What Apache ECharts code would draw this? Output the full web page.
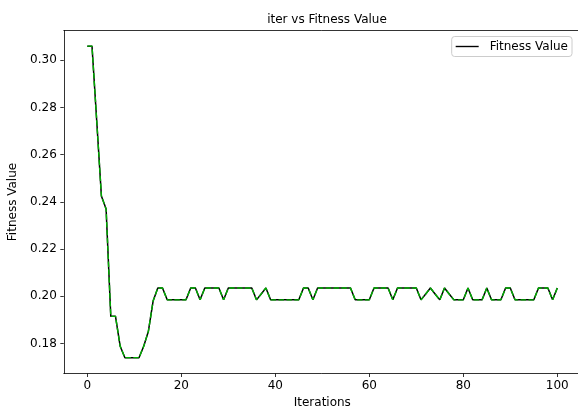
<!DOCTYPE html>
<html>
<head>
<meta charset="utf-8">
<script src="https://cdn.jsdelivr.net/npm/echarts@6/dist/echarts.min.js"></script>
<style>
html,body{margin:0;padding:0;background:#fff;}
#chart{width:578px;height:412px;}
</style>
</head>
<body>
<div id="chart"></div>
<script>
// Fitness value per iteration (index = iteration 0..100)
const fitness = [
  0.306, 0.306, 0.2745, 0.2425, 0.237, 0.1915, 0.1915, 0.1788, 0.174, 0.174,
  0.174, 0.174, 0.1788, 0.1852, 0.1980, 0.2035, 0.2035, 0.1985, 0.1985, 0.1985,
  0.1985, 0.1985, 0.2035, 0.2035, 0.1985, 0.2035, 0.2035, 0.2035, 0.2035, 0.1985,
  0.2035, 0.2035, 0.2035, 0.2035, 0.2035, 0.2035, 0.1985, 0.2010, 0.2035, 0.1985,
  0.1985, 0.1985, 0.1985, 0.1985, 0.1985, 0.1985, 0.2035, 0.2035, 0.1985, 0.2035,
  0.2035, 0.2035, 0.2035, 0.2035, 0.2035, 0.2035, 0.2035, 0.1985, 0.1985, 0.1985,
  0.1985, 0.2035, 0.2035, 0.2035, 0.2035, 0.1985, 0.2035, 0.2035, 0.2035, 0.2035,
  0.2035, 0.1985, 0.2010, 0.2035, 0.2010, 0.1985, 0.2035, 0.2010, 0.1985, 0.1985,
  0.1985, 0.2035, 0.1985, 0.1985, 0.1985, 0.2035, 0.1985, 0.1985, 0.1985, 0.2035,
  0.2035, 0.1985, 0.1985, 0.1985, 0.1985, 0.1985, 0.2035, 0.2035, 0.2035, 0.1985,
  0.2035
];
const xTicks = [0, 20, 40, 60, 80, 100];
const yTicks = [0.18, 0.20, 0.22, 0.24, 0.26, 0.28, 0.30];
const titleText = 'iter vs Fitness Value';
const xName = 'Iterations';
const yName = 'Fitness Value';
const seriesName = 'Fitness Value';

const pts = fitness.map((v, i) => [i, v]);
const FONT = 'DejaVu Sans';
const FS = 12;

const chart = echarts.init(document.getElementById('chart'), null, {renderer: 'canvas'});
chart.setOption({
  animation: false,
  backgroundColor: '#fff',
  title: {
    text: titleText,
    left: 322, top: 9, textAlign: 'center',
    textStyle: {fontFamily: FONT, fontSize: 12, fontWeight: 'normal', color: '#000'}
  },
  legend: {
    data: [{name: seriesName, icon: 'path://M0,0 H20 V1.2 H0 Z'}],
    right: 6, top: 36.5,
    orient: 'vertical',
    padding: [4, 4, 4, 4],
    itemWidth: 23, itemHeight: 13, itemGap: 0,
    itemStyle: {color: '#000'},
    borderColor: '#cccccc', borderWidth: 1, borderRadius: 3,
    backgroundColor: 'rgba(255,255,255,0.8)',
    textStyle: {fontFamily: FONT, fontSize: FS, color: '#000', padding: [0, 0, 0, 6]}
  },
  grid: {
    left: 63.8, top: 30.5, width: 517, height: 343,
    show: false, containLabel: false, outerBoundsMode: 'none'
  },
  xAxis: [{
    type: 'value', min: -5, max: 105,
    name: xName, nameLocation: 'middle', nameGap: 23,
    nameTextStyle: {fontFamily: FONT, fontSize: FS, color: '#000'},
    axisLine: {show: true, onZero: false, lineStyle: {color: '#000', width: 0.8}},
    axisTick: {show: true, length: 3.5, lineStyle: {color: '#000', width: 0.8}, customValues: xTicks},
    axisLabel: {customValues: xTicks, margin: 6, fontFamily: FONT, fontSize: FS, color: '#000'},
    splitLine: {show: false}
  }, {
    type: 'value', min: -5, max: 105, position: 'top',
    axisLine: {show: true, onZero: false, lineStyle: {color: '#000', width: 0.8}},
    axisTick: {show: false}, axisLabel: {show: false}, splitLine: {show: false}
  }],
  yAxis: {
    type: 'value', min: 0.16729, max: 0.31263,
    name: yName, nameLocation: 'middle', nameGap: 42,
    nameTextStyle: {fontFamily: FONT, fontSize: FS, color: '#000'},
    axisLine: {show: true, onZero: false, lineStyle: {color: '#000', width: 0.8}},
    axisTick: {show: true, length: 3.5, lineStyle: {color: '#000', width: 0.8}, customValues: yTicks},
    axisLabel: {customValues: yTicks, margin: 7, fontFamily: FONT, fontSize: FS, color: '#000',
      formatter: v => v.toFixed(2)},
    splitLine: {show: false}
  },
  series: [
    {
      name: seriesName, type: 'line', data: pts, symbol: 'none',
      lineStyle: {color: '#000', width: 1.5}, itemStyle: {color: '#000'}, z: 2
    },
    {
      name: 'dashed', type: 'line', data: pts, symbol: 'none',
      lineStyle: {color: '#00b000', width: 1.4, type: [5.5, 2.4]}, itemStyle: {color: '#00b000'}, z: 3
    }
  ]
});
</script>
</body>
</html>
